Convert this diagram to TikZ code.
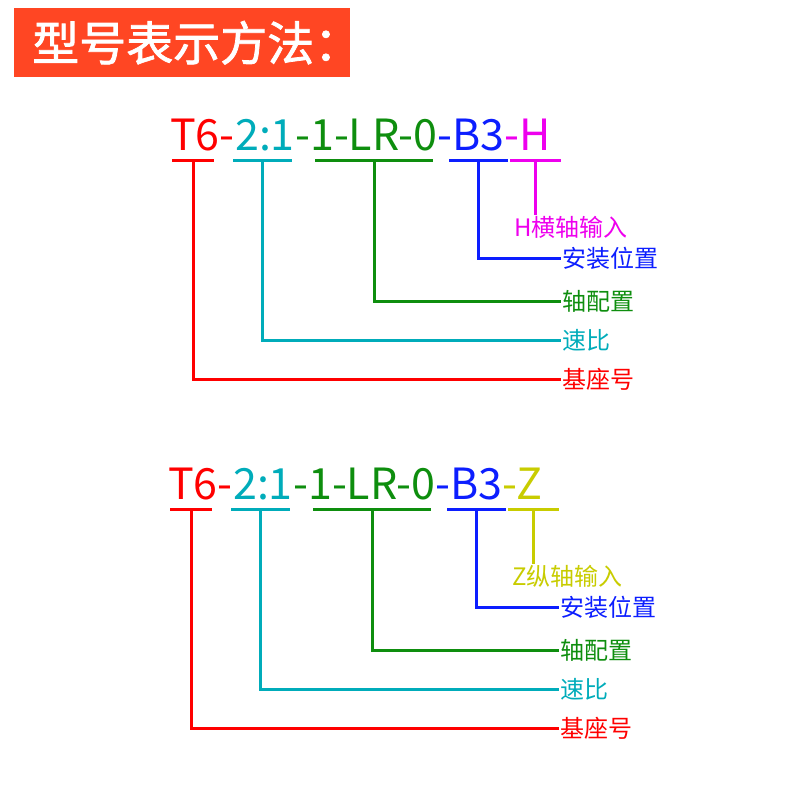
\documentclass[tikz,border=0pt]{standalone}
\usepackage{fontspec}
\newfontfamily\cjk{Noto Sans CJK SC}
\newfontfamily\cjkhead[FakeBold=1.6]{Noto Sans CJK SC}
\usetikzlibrary{positioning}
\definecolor{titlered}{RGB}{255, 70, 35}
\definecolor{basered}{RGB}{255, 0, 0}
\definecolor{ratiocyan}{RGB}{0, 172, 186}
\definecolor{shaftgreen}{RGB}{14, 142, 14}
\definecolor{mountblue}{RGB}{12, 30, 255}
\definecolor{inputmagenta}{RGB}{238, 0, 238}
\definecolor{inputyellow}{RGB}{200, 204, 0}

\begin{document}
\begin{tikzpicture}[x=1pt, y=-1pt,
    titlebox/.style={fill=titlered, text=white, anchor=north west, align=left,
                text width=300pt, inner xsep=18pt, inner ysep=0pt, minimum height=69pt,
                font=\cjkhead\fontsize{47}{47}\selectfont},
    code/.style={text=#1, inner sep=0pt, font=\cjk\fontsize{43}{43}\selectfont},
    bar/.style={fill=#1, inner sep=0pt, minimum height=3pt},
    tag/.style={text=#1, anchor=west, inner sep=1pt, font=\cjk\fontsize{24}{24}\selectfont},
    link/.style={line width=3pt}
]
    \useasboundingbox (0,0) rectangle (800,800);
    \node[titlebox] (title) at (14,8) {型号表示方法：};

    % horizontal input
    \node[code=basered, anchor=base west] (base1) at (170,150) {T6-};
    \node[code=ratiocyan, base right=0pt of base1] (ratio1) {2:1};
    \node[code=shaftgreen, base right=0pt of ratio1] (shaft1) {-1-LR-0};
    \node[code=mountblue, base right=0pt of shaft1] (mount1) {-B3};
    \node[code=inputmagenta, base right=0pt of mount1] (input1) {-H};

    \node[bar=basered, minimum width=42pt] (basebar1) at (193,160) {};
    \node[bar=ratiocyan, minimum width=59pt] (ratiobar1) at (262.5,160) {};
    \node[bar=shaftgreen, minimum width=118pt] (shaftbar1) at (374,160) {};
    \node[bar=mountblue, minimum width=59pt] (mountbar1) at (478,160) {};
    \node[bar=inputmagenta, minimum width=51pt] (inputbar1) at (535,160) {};

    \node[tag=inputmagenta] (inputlab1) at (513,227) {H横轴输入};
    \node[tag=mountblue] (mountlab1) at (561,258) {安装位置};
    \node[tag=shaftgreen] (shaftlab1) at (561,301) {轴配置};
    \node[tag=ratiocyan] (ratiolab1) at (561,340) {速比};
    \node[tag=basered] (baselab1) at (561,379) {基座号};

    \draw[link, inputmagenta] (inputbar1) -- (inputbar1 |- inputlab1.north);
    \draw[link, mountblue] (mountbar1) |- (mountlab1.west);
    \draw[link, shaftgreen] (shaftbar1) |- (shaftlab1.west);
    \draw[link, ratiocyan] (ratiobar1) |- (ratiolab1.west);
    \draw[link, basered] (basebar1) |- (baselab1.west);

    % vertical input
    \begin{scope}[shift={(-2,349)}]
    \node[code=basered, anchor=base west] (base2) at (170,150) {T6-};
    \node[code=ratiocyan, base right=0pt of base2] (ratio2) {2:1};
    \node[code=shaftgreen, base right=0pt of ratio2] (shaft2) {-1-LR-0};
    \node[code=mountblue, base right=0pt of shaft2] (mount2) {-B3};
    \node[code=inputyellow, base right=0pt of mount2] (input2) {-Z};

    \node[bar=basered, minimum width=42pt] (basebar2) at (193,160) {};
    \node[bar=ratiocyan, minimum width=59pt] (ratiobar2) at (262.5,160) {};
    \node[bar=shaftgreen, minimum width=118pt] (shaftbar2) at (374,160) {};
    \node[bar=mountblue, minimum width=59pt] (mountbar2) at (478,160) {};
    \node[bar=inputyellow, minimum width=51pt] (inputbar2) at (535,160) {};

    \node[tag=inputyellow] (inputlab2) at (513,227) {Z纵轴输入};
    \node[tag=mountblue] (mountlab2) at (561,258) {安装位置};
    \node[tag=shaftgreen] (shaftlab2) at (561,301) {轴配置};
    \node[tag=ratiocyan] (ratiolab2) at (561,340) {速比};
    \node[tag=basered] (baselab2) at (561,379) {基座号};

    \draw[link, inputyellow] (inputbar2) -- (inputbar2 |- inputlab2.north);
    \draw[link, mountblue] (mountbar2) |- (mountlab2.west);
    \draw[link, shaftgreen] (shaftbar2) |- (shaftlab2.west);
    \draw[link, ratiocyan] (ratiobar2) |- (ratiolab2.west);
    \draw[link, basered] (basebar2) |- (baselab2.west);
    \end{scope}
\end{tikzpicture}
\end{document}
